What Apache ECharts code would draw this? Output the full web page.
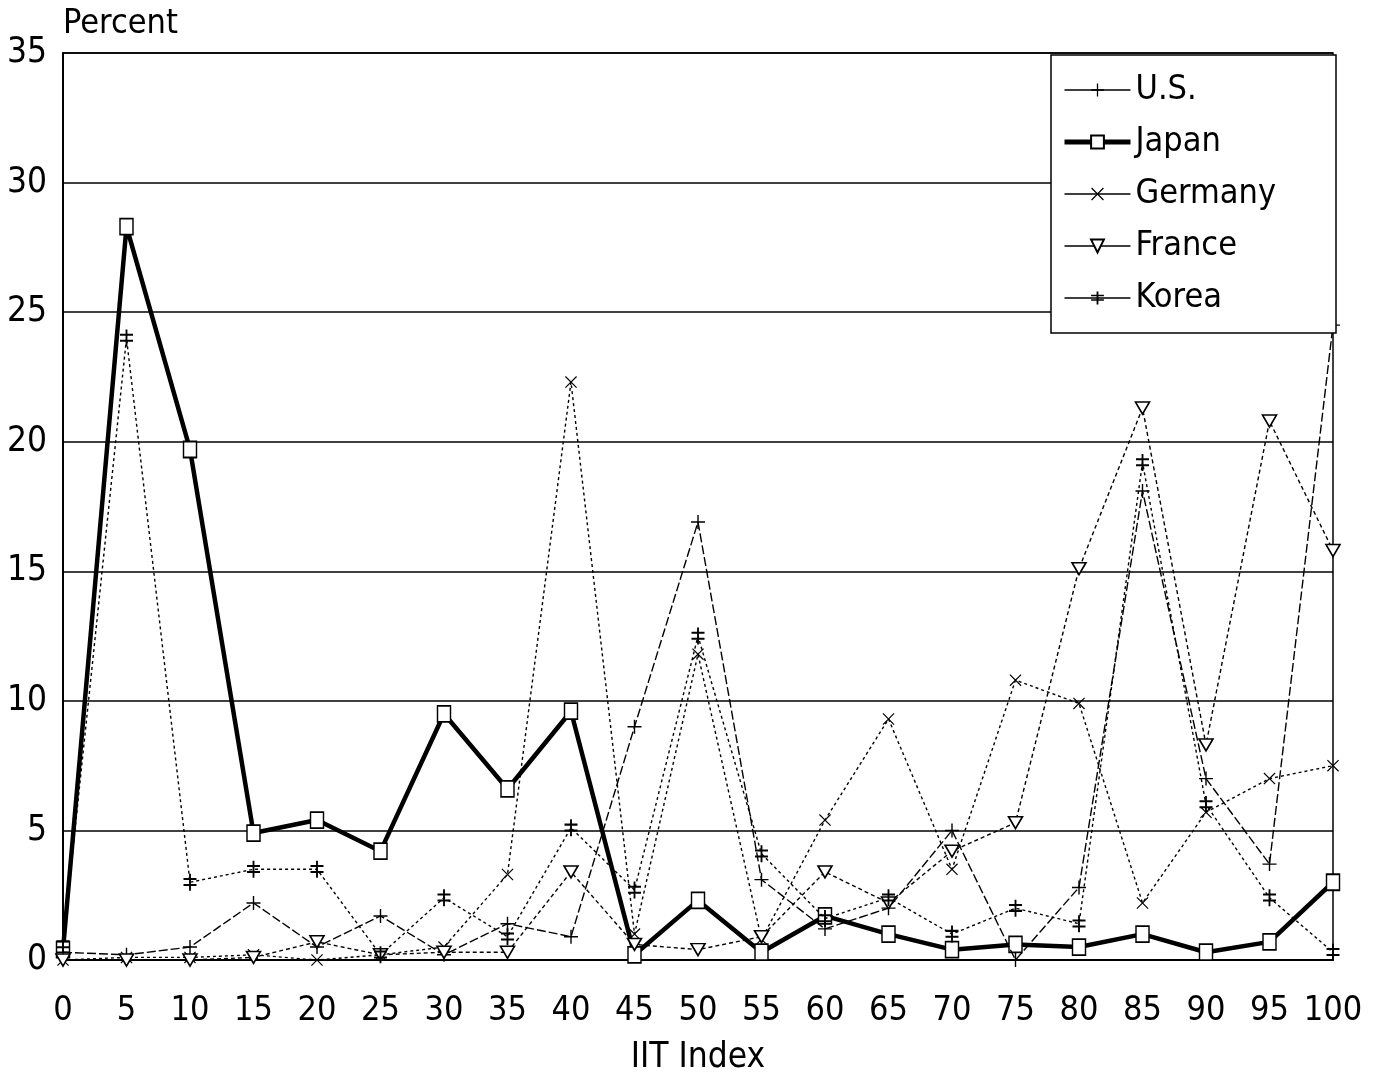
<!DOCTYPE html>
<html>
<head>
<meta charset="utf-8">
<style>
  html, body { margin: 0; padding: 0; background: #fff; }
  #chart { width: 1382px; height: 1080px; }
</style>
<script src="https://cdn.jsdelivr.net/npm/echarts@6/dist/echarts.min.js"></script>
</head>
<body>
<div id="chart"></div>
<script>
// ---- data ----
const categories = ['0','5','10','15','20','25','30','35','40','45','50','55','60','65','70','75','80','85','90','95','100'];
const usValues      = [0.3, 0.2, 0.5, 2.2, 0.5, 1.7, 0.2, 1.4, 0.9, 9.0, 16.9, 3.1, 1.2, 2.0, 5.0, 0.0, 2.8, 18.1, 7.0, 3.7, 24.5];
const japanValues   = [0.4, 28.3, 19.7, 4.9, 5.4, 4.2, 9.5, 6.6, 9.6, 0.2, 2.3, 0.3, 1.7, 1.0, 0.4, 0.6, 0.5, 1.0, 0.3, 0.7, 3.0];
const germanyValues = [0.0, 0.1, 0.1, 0.2, 0.0, 0.2, 0.5, 3.3, 22.3, 1.0, 11.8, 0.8, 5.4, 9.3, 3.5, 10.8, 9.9, 2.2, 5.7, 7.0, 7.5];
const franceValues  = [0.0, 0.0, 0.0, 0.1, 0.7, 0.2, 0.3, 0.3, 3.4, 0.6, 0.4, 0.9, 3.4, 2.2, 4.2, 5.3, 15.1, 21.3, 8.3, 20.8, 15.8];
const koreaValues   = [0.6, 24.0, 3.0, 3.5, 3.5, 0.2, 2.4, 0.9, 5.1, 2.7, 12.5, 4.1, 1.6, 2.4, 1.0, 2.0, 1.4, 19.2, 6.0, 2.4, 0.3];
const seriesNames = ['U.S.', 'Japan', 'Germany', 'France', 'Korea'];
const yTicks = { min: 0, max: 35, interval: 5 };

const FONT = "'DejaVu Sans Condensed', 'Liberation Sans Narrow', 'DejaVu Sans', sans-serif";
const INK = '#000';

const SYM_PLUS  = 'path://M9,0h2v20h-2z M0,9h20v2h-20z';
const SYM_X     = 'path://M1.4,0L20,18.6L18.6,20L0,1.4z M18.6,0L20,1.4L1.4,20L0,18.6z';
const SYM_DBL   = 'path://M9,0h2v20h-2z M3,5h14v2.4h-14z M3,12h14v2.4h-14z';
const SYM_TRI   = 'path://M0,0L20,0L10,18z';

function thinSeries(name, data, symbol, size, dash, hollow) {
  return {
    name: name,
    type: 'line',
    data: data,
    symbol: symbol,
    symbolSize: size,
    showAllSymbol: true,
    lineStyle: { color: INK, width: 1.4, type: dash },
    itemStyle: hollow
      ? { color: '#fff', borderColor: INK, borderWidth: 1.6 }
      : { color: INK, borderWidth: 0 },
    z: 3,
    animation: false
  };
}

const legendItems = seriesNames.map(function (n) {
  return { name: n, lineStyle: { type: 'solid', width: n === 'Japan' ? 5 : 1.5, color: INK } };
});

const chart = echarts.init(document.getElementById('chart'), null, { renderer: 'canvas' });
chart.setOption({
  backgroundColor: '#fff',
  animation: false,
  grid: {
    left: 63, right: 49, top: 53, bottom: 120,
    containLabel: false, outerBoundsMode: 'none',
    show: true, borderColor: INK, borderWidth: 1.5, backgroundColor: 'transparent'
  },
  xAxis: {
    type: 'category',
    data: categories,
    boundaryGap: false,
    name: 'IIT Index',
    nameLocation: 'middle',
    nameGap: 80,
    nameTextStyle: { fontFamily: FONT, fontSize: 35, color: INK },
    axisLine: { lineStyle: { color: INK, width: 2 } },
    axisTick: { show: false },
    axisLabel: { interval: 0, fontFamily: FONT, fontSize: 34, color: INK, margin: 34 },
    splitLine: { show: false }
  },
  yAxis: {
    type: 'value',
    min: yTicks.min, max: yTicks.max, interval: yTicks.interval,
    name: 'Percent',
    nameLocation: 'end',
    nameGap: 12,
    nameTextStyle: { fontFamily: FONT, fontSize: 34, color: INK, align: 'left' },
    axisLine: { show: true, lineStyle: { color: INK, width: 2 } },
    axisTick: { show: false },
    axisLabel: { fontFamily: FONT, fontSize: 35, color: INK, margin: 16 },
    splitLine: { show: true, lineStyle: { color: INK, width: 1.5 } }
  },
  graphic: [{
    type: 'rect',
    shape: { x: 1051, y: 55, width: 285, height: 278 },
    style: { fill: '#fff', stroke: INK, lineWidth: 1.5 },
    z: 50
  }],
  legend: {
    data: legendItems,
    orient: 'vertical',
    left: 1060,
    top: 55,
    padding: [17, 10, 17, 2],
    itemWidth: 66,
    itemHeight: 16,
    itemGap: 16,
    z: 60,
    textStyle: { fontFamily: FONT, fontSize: 34, color: INK, lineHeight: 36 }
  },
  series: [
    thinSeries('U.S.', usValues, SYM_PLUS, 14, [9, 3], false),
    {
      name: 'Japan',
      type: 'line',
      data: japanValues,
      symbol: 'rect',
      symbolSize: [13, 16],
      showAllSymbol: true,
      lineStyle: { color: INK, width: 4.5, type: 'solid' },
      itemStyle: { color: '#fff', borderColor: INK, borderWidth: 1.6 },
      z: 2,
      animation: false
    },
    thinSeries('Germany', germanyValues, SYM_X, 12, [3, 3], false),
    thinSeries('France', franceValues, SYM_TRI, [14, 12], [4, 3], true),
    thinSeries('Korea', koreaValues, SYM_DBL, [13, 17], [3, 3], false)
  ]
});
</script>
</body>
</html>
